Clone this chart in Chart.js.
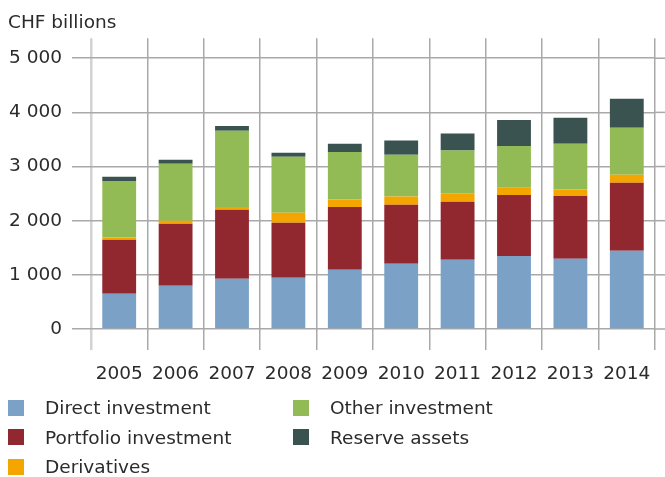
<!DOCTYPE html>
<html>
<head>
<meta charset="utf-8">
<script src="https://cdn.jsdelivr.net/npm/chart.js@4"></script>
<style>
  html, body { margin: 0; padding: 0; background: #fff; }
  #wrap { position: relative; width: 665px; height: 477px; }
  #chart { position: absolute; left: 0; top: 0; }
  #legend {
    position: absolute; left: 8px; top: 393px;
    display: grid; grid-template-rows: repeat(3, 29.5px); grid-auto-flow: column;
    grid-template-columns: 285px 300px;
    font-family: "DejaVu Sans", sans-serif; font-size: 18.5px; color: #2b2b2b;
  }
  #legend .item { display: flex; align-items: center; white-space: nowrap; }
  #legend .box { width: 16px; height: 16px; margin-right: 21px; }
</style>
</head>
<body>
<div id="wrap">
  <canvas id="chart" width="665" height="477"></canvas>
  <div id="legend"></div>
</div>
<script>
const years = ['2005', '2006', '2007', '2008', '2009', '2010', '2011', '2012', '2013', '2014'];
const directInvestment = [650, 800, 930, 945, 1095, 1205, 1280, 1350, 1295, 1445];
const portfolioInvestment = [1000, 1145, 1270, 1015, 1160, 1090, 1070, 1125, 1160, 1255];
const derivatives = [40, 55, 55, 185, 135, 150, 155, 135, 120, 150];
const otherInvestment = [1045, 1050, 1405, 1035, 880, 775, 790, 770, 845, 865];
const reserveAssets = [75, 75, 90, 75, 150, 260, 315, 480, 480, 535];
const yTicks = [0, 1000, 2000, 3000, 4000, 5000];

const font = { family: '"DejaVu Sans", sans-serif', size: 18.5 };
const textColor = '#2b2b2b';
const gridColor = '#a9a9a9';

function fmt(v) {
  return String(v).replace(/\B(?=(\d{3})+(?!\d))/g, ' ');
}

// horizontal grid lines run on past the last category to the canvas edge
const gridRunout = {
  id: 'gridRunout',
  beforeDatasetsDraw(chart) {
    const { ctx, chartArea, scales } = chart;
    ctx.save();
    ctx.strokeStyle = gridColor;
    ctx.lineWidth = 1.5;
    yTicks.forEach(v => {
      const y = scales.y.getPixelForValue(v);
      ctx.beginPath();
      ctx.moveTo(chartArea.right, y);
      ctx.lineTo(chart.width, y);
      ctx.stroke();
    });
    ctx.restore();
  }
};

const ds = (label, data, color) => ({ label, data, backgroundColor: color, borderWidth: 0 });

const chart = new Chart(document.getElementById('chart'), {
  type: 'bar',
  data: {
    labels: years,
    datasets: [
      ds('Direct investment', directInvestment, '#7ba2c6'),
      ds('Portfolio investment', portfolioInvestment, '#912830'),
      ds('Derivatives', derivatives, '#f5a500'),
      ds('Other investment', otherInvestment, '#93bb55'),
      ds('Reserve assets', reserveAssets, '#3a5351'),
    ]
  },
  options: {
    responsive: false,
    animation: false,
    layout: { padding: { left: 8, right: 10, top: 0, bottom: 88 } },
    datasets: { bar: { categoryPercentage: 0.6, barPercentage: 1 } },
    plugins: {
      legend: { display: false },
      tooltip: { enabled: false },
      title: {
        display: true, text: 'CHF billions', align: 'start',
        color: textColor, font: { ...font, weight: 'normal', lineHeight: 1.2 },
        padding: { top: 12, bottom: 4 }
      }
    },
    scales: {
      x: {
        stacked: true,
        offset: true,
        afterFit: s => { s.height = 60; },
        grid: {
          offset: true, tickLength: 21,
          color: ctx => (ctx.index === 0 || ctx.index === years.length) ? '#d2d2d2' : gridColor,
          lineWidth: ctx => (ctx.index === 0 || ctx.index === years.length) ? 2.5 : 1.5
        },
        border: { display: false },
        ticks: { color: textColor, font, padding: 13, maxRotation: 0, autoSkip: false }
      },
      y: {
        stacked: true,
        min: 0, max: 5370,
        afterFit: s => { s.width = 83; },
        afterBuildTicks: s => { s.ticks = yTicks.map(v => ({ value: v })); },
        grid: { tickLength: 19, color: gridColor, lineWidth: 1.5 },
        border: { display: false },
        ticks: { color: textColor, font, padding: 10, callback: v => fmt(v) }
      }
    }
  },
  plugins: [gridRunout]
});

// two-column legend, filled top to bottom
const legendEl = document.getElementById('legend');
chart.data.datasets.forEach(d => {
  const item = document.createElement('div');
  item.className = 'item';
  const box = document.createElement('span');
  box.className = 'box';
  box.style.background = d.backgroundColor;
  item.appendChild(box);
  item.appendChild(document.createTextNode(d.label));
  legendEl.appendChild(item);
});
</script>
</body>
</html>
